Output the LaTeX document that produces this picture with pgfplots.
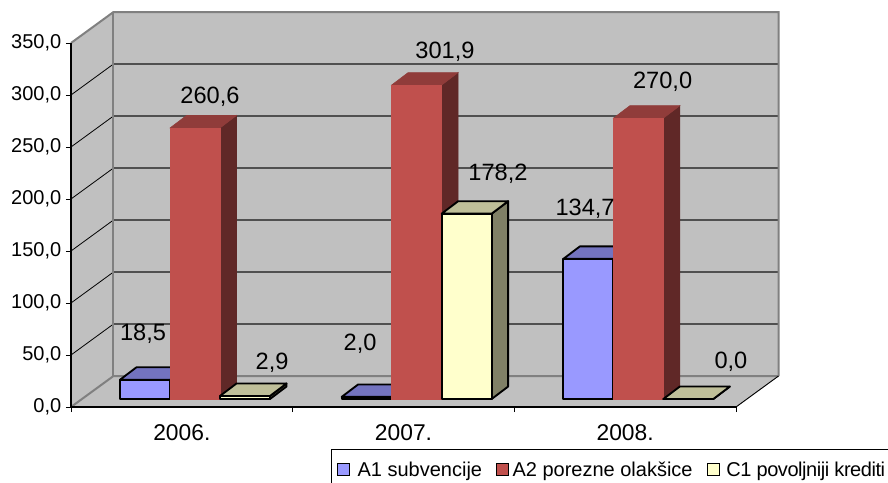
\documentclass[border=0pt]{standalone}
\usepackage{fontspec}
\setmainfont{Liberation Sans}
\usepackage{pgfplots}
\pgfplotsset{compat=1.18}

\newcommand{\cf}{\fontsize{15}{18}\selectfont}
\newcommand{\cfx}{\fontsize{17.1}{20}\selectfont}
\newcommand{\cfl}{\fontsize{17.7}{20}\selectfont}

\definecolor{wall}{HTML}{C0C0C0}
\definecolor{edge}{HTML}{808080}
\definecolor{gridc}{HTML}{505050}
\definecolor{afront}{HTML}{9999FF}
\definecolor{atop}{HTML}{7373BF}
\definecolor{aside}{HTML}{4D4D80}
\definecolor{bfront}{HTML}{C0504D}
\definecolor{btop}{HTML}{903C3A}
\definecolor{bside}{HTML}{602827}
\definecolor{cfront}{HTML}{FFFFCC}
\definecolor{ctop}{HTML}{BFBF99}
\definecolor{cside}{HTML}{808066}

\pgfplotsset{
    bar edge/.style={draw=black, line width=1.4pt, line join=round},
    bar noedge/.style={line width=0.4pt},
    sq/.style={legend image code/.code={\draw[##1] (0pt,-4.5pt) rectangle (9pt,4.5pt);}},
}

% #1 category, #2 shift, #3 value, #4 colour prefix, #5 edge style
\newcommand{\threebar}[5]{%
    \pgfmathsetmacro\xa{#1+#2}
    \pgfmathsetmacro\xb{\xa+0.2256}
    \pgfmathsetmacro\xc{\xb+0.0744}
    \pgfmathsetmacro\xd{\xa+0.0744}
    \pgfmathsetmacro\yt{7.7+#3}
    \pgfmathsetmacro\yu{\yt+12}
    \addplot[forget plot, draw=#4side, #5, fill=#4side] coordinates {(\xb,7.7) (\xc,19.7) (\xc,\yu) (\xb,\yt)} --cycle;
    \addplot[forget plot, draw=#4top, #5, fill=#4top] coordinates {(\xa,\yt) (\xd,\yu) (\xc,\yu) (\xb,\yt)} --cycle;
    \addplot[forget plot, draw=#4front, #5, fill=#4front] coordinates {(\xa,7.7) (\xa,\yt) (\xb,\yt) (\xb,7.7)} --cycle;
}

\begin{document}
\begin{tikzpicture}
\begin{axis}[
    at={(0,0)},
    scale only axis,
    width=498.75pt,
    height=273pt,
    clip=false,
    axis on top,
    xmin=-0.5, xmax=2.5,
    ymin=0, ymax=350,
    axis x line=bottom,
    axis y line=left,
    axis line style={-, line width=0.8pt, black},
    tick align=outside,
    tickwidth=3.75pt,
    subtickwidth=3.75pt,
    tick style={black, line width=0.7pt},
    xtick={0,1,2},
    xticklabels={2006.,2007.,2008.},
    minor xtick={-0.5,0.5,1.5,2.5},
    major x tick style={draw=none},
    ytick={0,50,...,350},
    scaled y ticks=false,
    tick label style={font=\cf},
    xticklabel style={font=\cfx, yshift=-6pt},
    yticklabel style={
        /pgf/number format/.cd, fixed, fixed zerofill, precision=1, use comma, assume math mode=true,
    },
    legend columns=3,
    legend cell align=left,
    legend style={
        at={(axis cs:0.673,-40.4)}, anchor=north west,
        draw=black, line width=0.7pt,
        font=\cf,
        inner xsep=4pt, inner ysep=7pt,
        /tikz/every even column/.append style={column sep=8.4pt},
    },
]

% side wall, floor and back wall
\addplot[forget plot, fill=wall, draw=none] coordinates {(-0.5,0) (-0.3083,29.8) (-0.3083,379.8) (-0.5,350)} --cycle;
\addplot[forget plot, fill=wall, draw=none] coordinates {(-0.5,0) (-0.3083,29.8) (2.6917,29.8) (2.5,0)} --cycle;
\addplot[forget plot, fill=wall, draw=none] coordinates {(-0.3083,29.8) (2.6917,29.8) (2.6917,379.8) (-0.3083,379.8)} --cycle;

% grid
\pgfplotsforeachungrouped \v in {50,100,...,300}{
    \pgfmathsetmacro\vb{\v+29.8}
    \addplot[forget plot, gridc, line width=1pt] coordinates {(-0.3083,\vb) (2.6917,\vb)};
    \addplot[forget plot, black, line width=0.6pt] coordinates {(-0.5,\v) (-0.3083,\vb)};
}
\addplot[forget plot, edge, line width=1.5pt] coordinates {(-0.5,350) (-0.3083,379.8) (2.6917,379.8) (2.6917,29.8)};
\addplot[forget plot, edge, line width=1.5pt] coordinates {(-0.5,0) (-0.3083,29.8) (2.6917,29.8)};
\addplot[forget plot, edge, line width=1.5pt] coordinates {(-0.3083,29.8) (-0.3083,379.8)};
\addplot[forget plot, black, line width=0.7pt] coordinates {(2.5,0) (2.6917,29.8)};

% bars
\threebar{0}{-0.279}{18.5}{a}{bar edge}
\threebar{0}{-0.0534}{260.6}{b}{bar noedge}
\threebar{0}{0.1722}{2.9}{c}{bar edge}
\threebar{1}{-0.279}{2.0}{a}{bar edge}
\threebar{1}{-0.0534}{301.9}{b}{bar noedge}
\threebar{1}{0.1722}{178.2}{c}{bar edge}
\threebar{2}{-0.279}{134.7}{a}{bar edge}
\threebar{2}{-0.0534}{270.0}{b}{bar noedge}
\threebar{2}{0.1722}{0.0}{c}{bar edge}

% value labels
\addplot[forget plot, draw=none, mark=none,
    nodes near coords,
    point meta=explicit symbolic,
    every node near coord/.style={font=\cfl, anchor=center, inner sep=0pt, black},
] table[row sep=\\, x=x, y=y, meta=label] {
    x y label \\
    -0.175 70.2 18,5 \\
    0.127 298 260,6 \\
    0.407 42.3 2,9 \\
    0.804 60.5 2,0 \\
    1.187 342 301,9 \\
    1.426 224 178,2 \\
    1.819 191 134,7 \\
    2.169 312.5 270,0 \\
    2.477 43.2 0,0 \\
};

\addlegendimage{sq, fill=afront, draw=black, line width=0.9pt}
\addlegendentry{\hspace{3.7pt}A1 subvencije}
\addlegendimage{sq, fill=bfront, draw=none}
\addlegendentry{\hspace{0.7pt}A2 porezne olakšice}
\addlegendimage{sq, fill=cfront, draw=black, line width=0.9pt}
\addlegendentry{\hspace{3pt}\addfontfeatures{LetterSpace=-2.2}C1 povoljniji krediti}

\end{axis}
\pgfresetboundingbox
\path[use as bounding box] (-53.25pt,-56.25pt) rectangle (612.75pt,305.25pt);
\end{tikzpicture}
\end{document}
